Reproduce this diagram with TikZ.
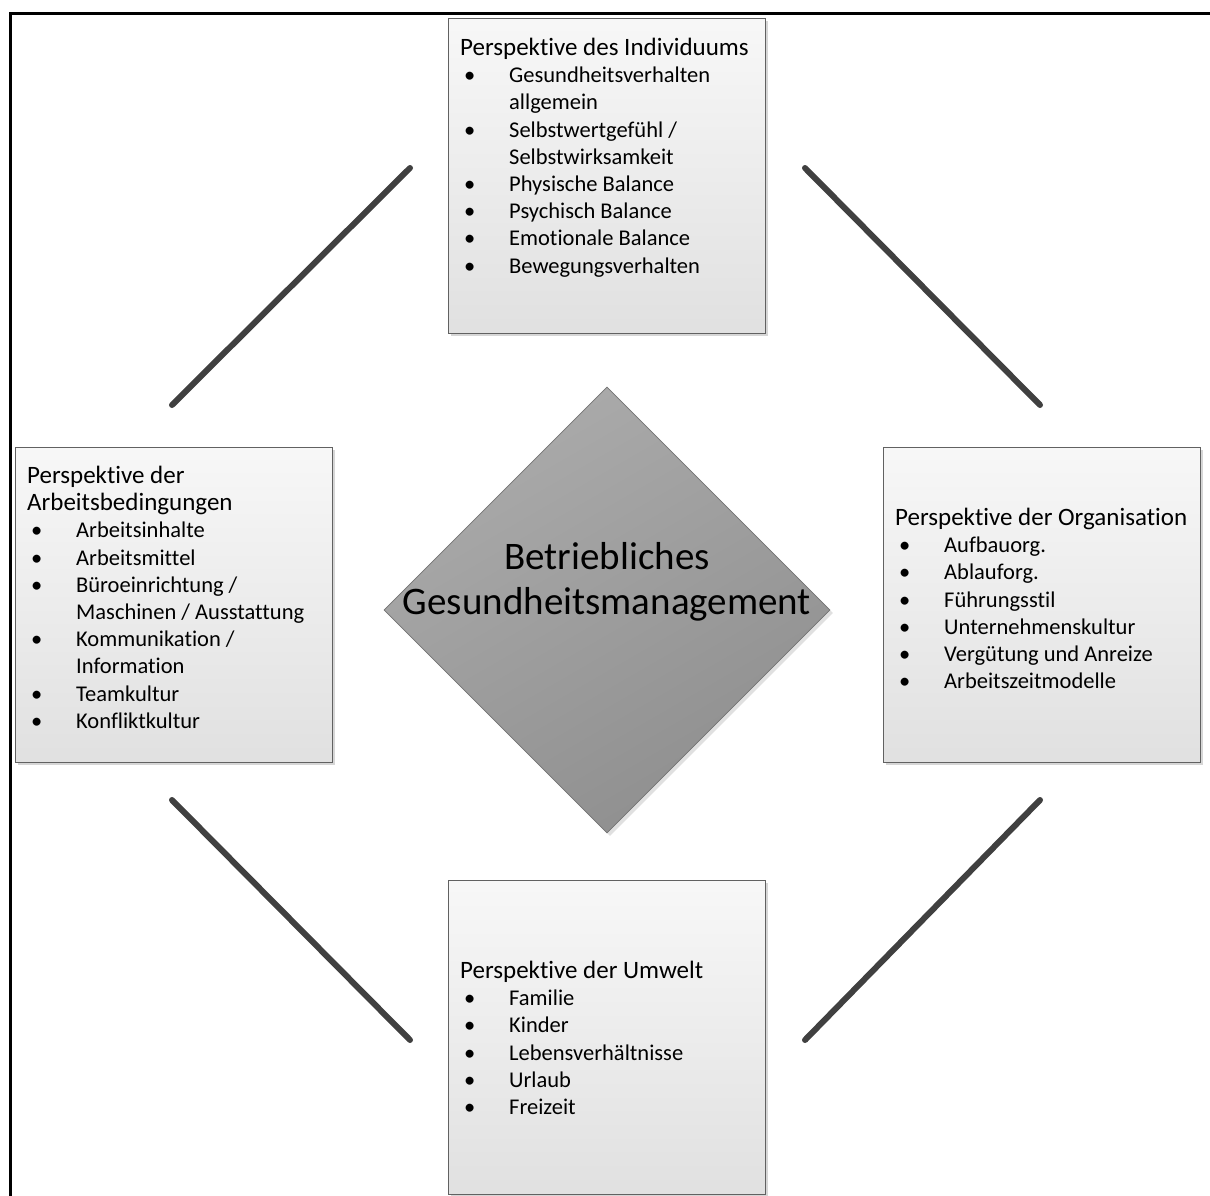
\documentclass[tikz,border=0pt]{standalone}
\usepackage{fontspec}
\setmainfont{Carlito}[RawFeature=-liga]
\usetikzlibrary{shapes.geometric,shadows,calc}
% bullet column of the lists, and an empty column for wrapped lines
\newcommand{\bul}{\makebox[49pt][l]{\hspace{4pt}\textbullet}}
\newcommand{\cont}{\makebox[49pt][l]{}}
% heading line of a perspective, a little larger than its items
\newcommand{\ttl}[1]{{\fontsize{25}{27.2}\selectfont #1}}

\begin{document}
\begin{tikzpicture}[x=1pt,y=-1pt,
  panel/.style={draw=black!62, line width=0.8pt,
    top color=black!3, bottom color=black!12,
    drop shadow={shadow xshift=3pt,shadow yshift=-3pt,fill=black!35,opacity=.45},
    minimum width=317pt, minimum height=315pt, inner sep=0pt, anchor=north west},
  paneltext/.style={font=\fontsize{22.5}{27.2}\selectfont, align=left,
    anchor=north west, inner sep=0pt, text=black},
  hub/.style={diamond, aspect=1, minimum width=446pt, minimum height=446pt,
    inner sep=0pt, draw=black!55, line width=0.8pt,
    top color=black!33, bottom color=black!44, shading angle=30,
    drop shadow={shadow xshift=3pt,shadow yshift=-3pt,fill=black!30,opacity=.4}},
  hubtext/.style={font=\fontsize{39}{45}\selectfont, align=center, inner sep=0pt},
  link/.style={draw=black!75, line width=6pt, line cap=round}
]
\useasboundingbox (0,0) rectangle (1210,1196);
\fill[white] (0,0) rectangle (1210,1196);

% page frame
\draw[line width=3pt] (1210,14) -- (10,14) -- (10,1196);

% the four perspectives
\node[panel] (indiv) at (448,18) {};
\node[panel] (arbeit) at (15,447) {};
\node[panel] (organ) at (883,447) {};
\node[panel, minimum height=314pt] (umwelt) at (448,880) {};

% the central topic
\node[hub] (bgm) at (607,610) {};
\node[hubtext] (bgmtext) at (607,582) {Betriebliches\\Gesundheitsmanagement};

% texts of the perspectives
\node[paneltext] (indivtext) at ($(indiv.north west)+(12,20)$) {%
\ttl{Perspektive des Individuums}\\
\bul Gesundheitsverhalten\\
\cont allgemein\\
\bul Selbstwertgefühl /\\
\cont Selbstwirksamkeit\\
\bul Physische Balance\\
\bul Psychisch Balance\\
\bul Emotionale Balance\\
\bul Bewegungsverhalten};

\node[paneltext] (arbeittext) at ($(arbeit.north west)+(12,19)$) {%
\ttl{Perspektive der}\\
\ttl{Arbeitsbedingungen}\\
\bul Arbeitsinhalte\\
\bul Arbeitsmittel\\
\bul Büroeinrichtung /\\
\cont Maschinen / Ausstattung\\
\bul Kommunikation /\\
\cont Information\\
\bul Teamkultur\\
\bul Konfliktkultur};

\node[paneltext] (organtext) at ($(organ.north west)+(12,61)$) {%
\ttl{Perspektive der Organisation}\\
\bul Aufbauorg.\\
\bul Ablauforg.\\
\bul Führungsstil\\
\bul Unternehmenskultur\\
\bul Vergütung und Anreize\\
\bul Arbeitszeitmodelle};

\node[paneltext] (umwelttext) at ($(umwelt.north west)+(12,81)$) {%
\ttl{Perspektive der Umwelt}\\
\bul Familie\\
\bul Kinder\\
\bul Lebensverhältnisse\\
\bul Urlaub\\
\bul Freizeit};

% diagonal links between the perspectives
\coordinate (a1) at (172,405);
\coordinate (a2) at (410,168);
\coordinate (b1) at (805,168);
\coordinate (b2) at (1040,405);
\coordinate (c1) at (172,800);
\coordinate (c2) at (410,1040);
\coordinate (d1) at (805,1040);
\coordinate (d2) at (1040,800);
\draw[link] (a1) -- (a2);
\draw[link] (b1) -- (b2);
\draw[link] (c1) -- (c2);
\draw[link] (d1) -- (d2);
\end{tikzpicture}
\end{document}
